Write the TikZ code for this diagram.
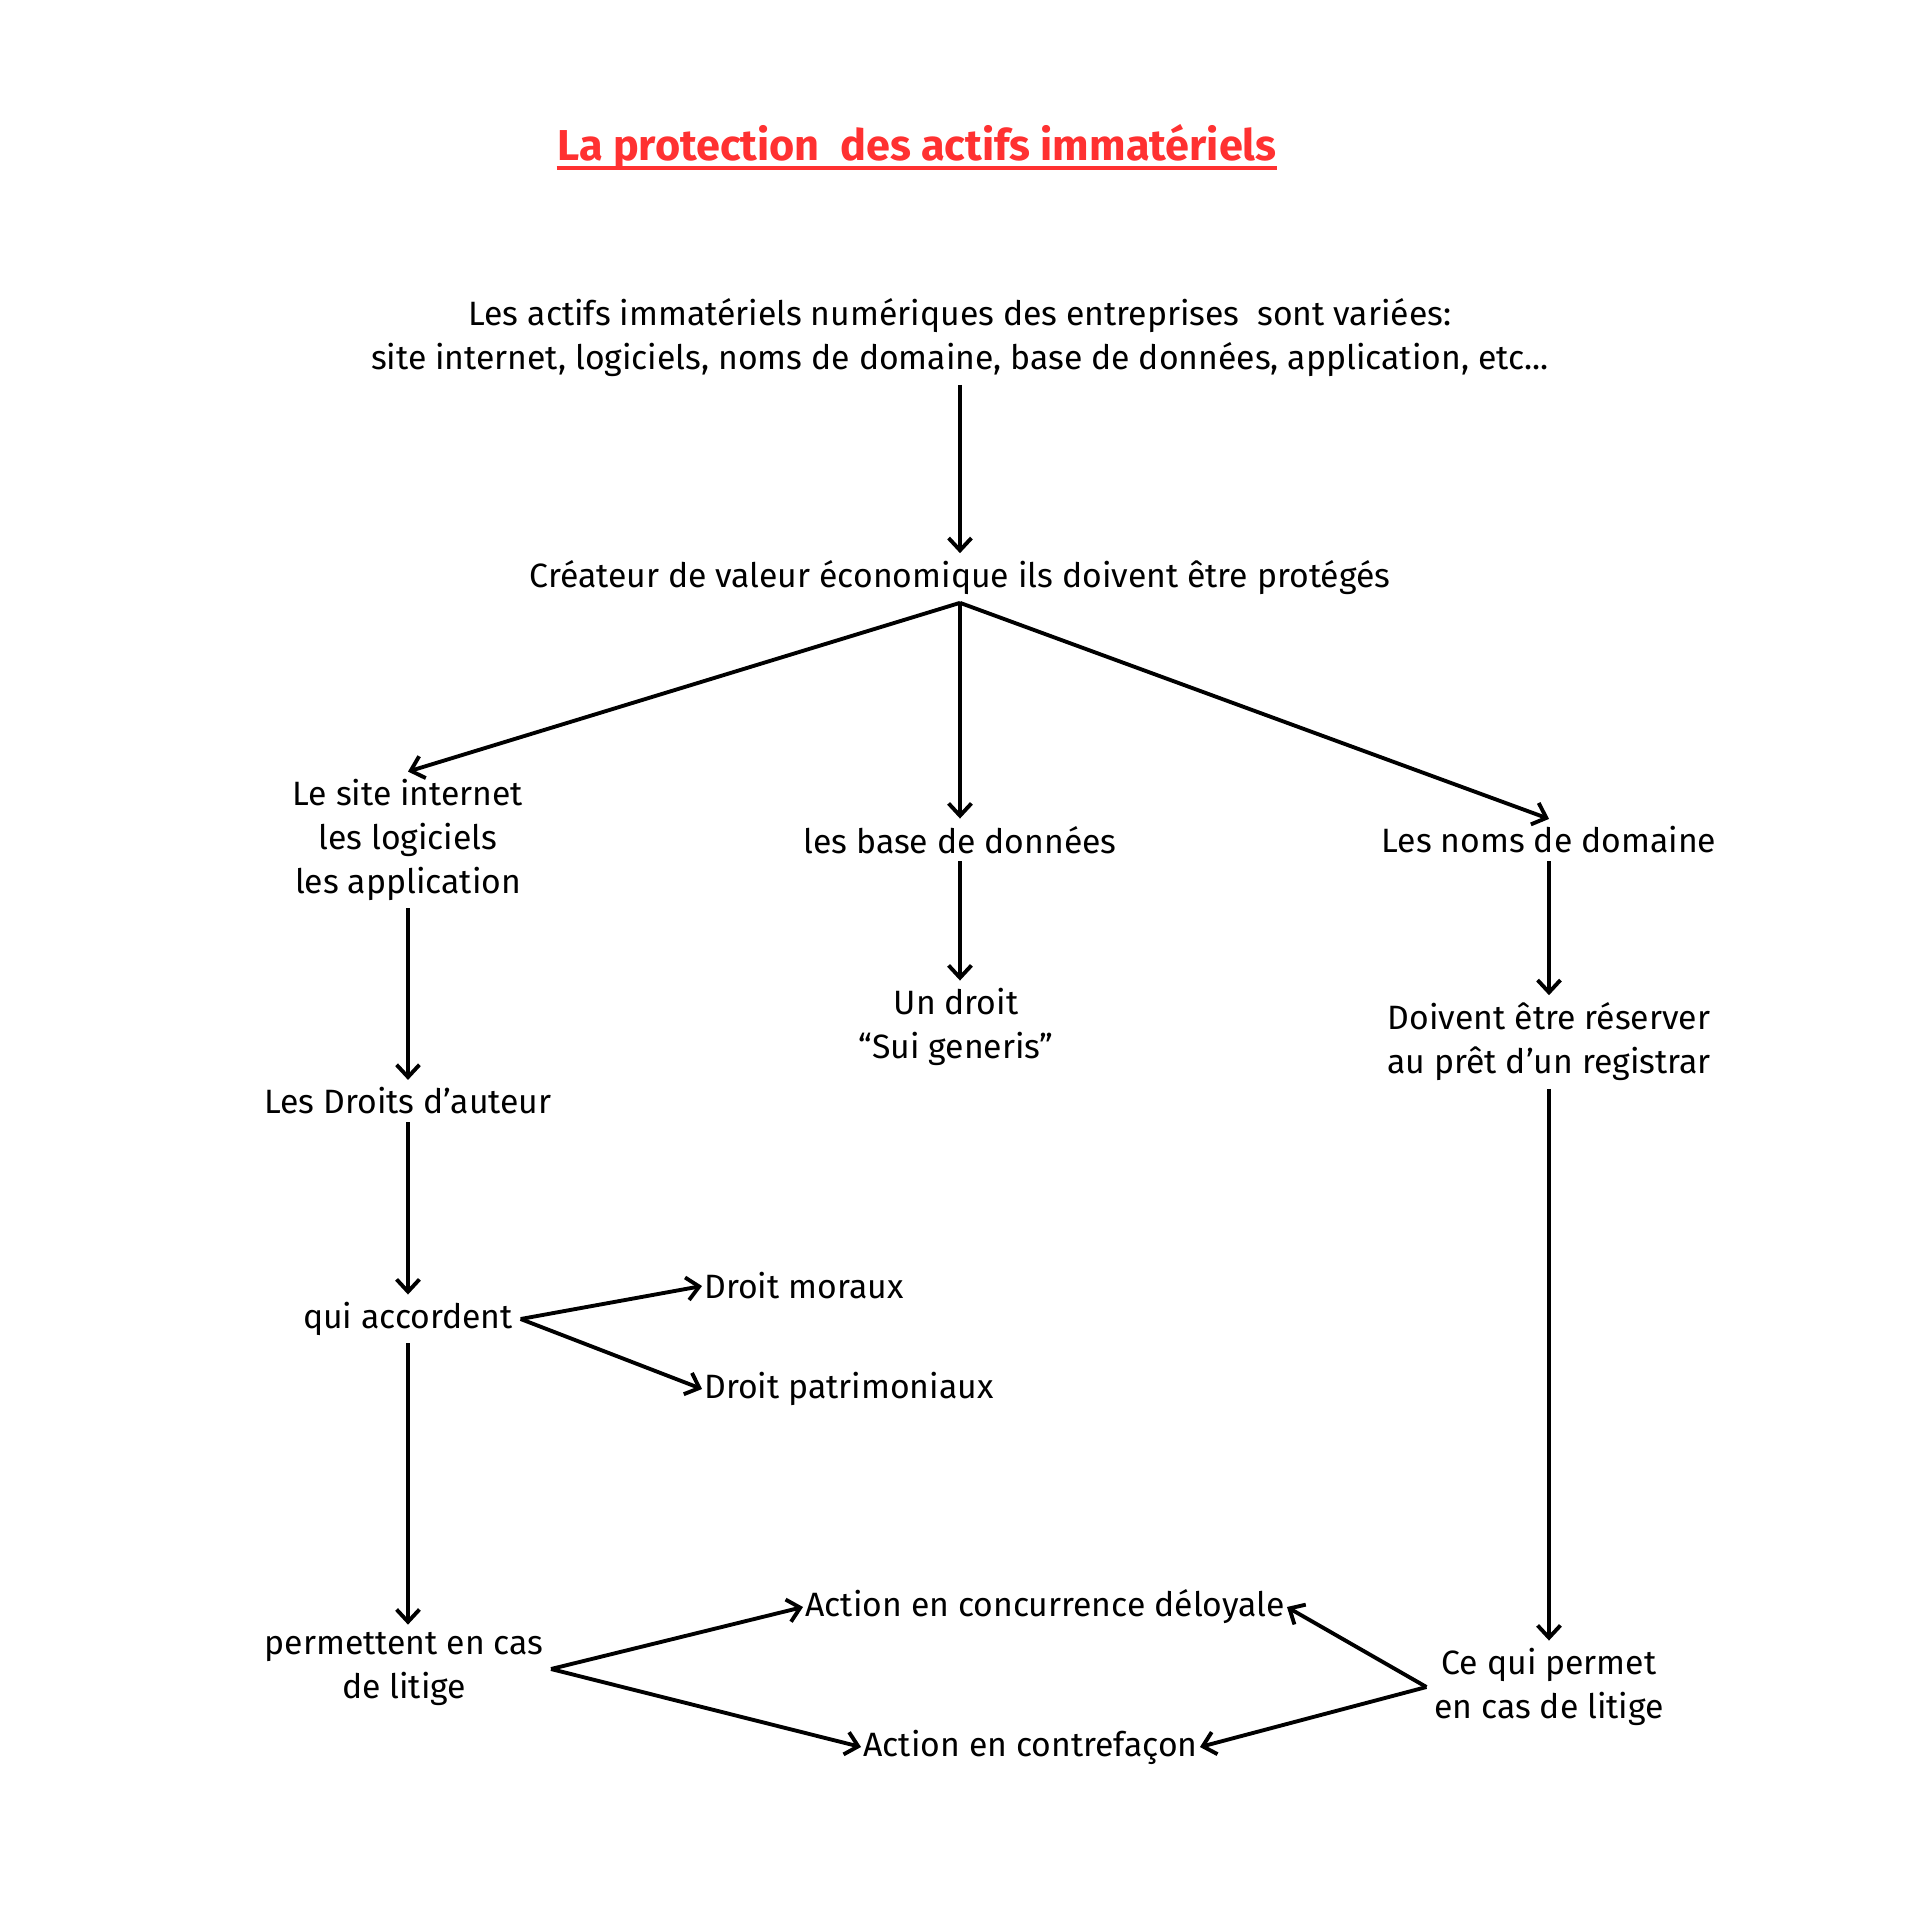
\documentclass[tikz,border=0pt]{standalone}
\usepackage{fontspec}
\setmainfont{Fira Sans}
\definecolor{titlered}{HTML}{FF3131}
\usetikzlibrary{arrows.meta, positioning}

\begin{document}
\begin{tikzpicture}[
    txt/.style={font=\fontsize{9.6}{12.5}\selectfont, align=center, inner sep=2pt},
    sidetxt/.style={txt, anchor=west, inner xsep=0.5pt},
    arrow/.style={-{Straight Barb[length=3.5pt,width=6.5pt]}, line width=1.1pt}
]
\useasboundingbox (0,0) rectangle (19.2,-19.2);

% Title
\node[font=\fontsize{12.3}{15}\selectfont\bfseries, text=titlered, inner sep=0pt] (title) at (9.17,-1.47) {La protection\ \ des actifs immatériels};
\draw[titlered, line width=1.1pt] ([yshift=-2.3pt]title.base west) -- ([yshift=-2.3pt]title.base east);

% Top of the tree
\node[txt] (actifs) at (9.60,-3.38) {Les actifs immatériels numériques des entreprises\ \ sont variées:\\site internet, logiciels, noms de domaine, base de données, application, etc...};
\node[txt] (createur) at (9.60,-5.78) {Créateur de valeur économique ils doivent être protégés};

% Three branches
\node[txt] (site) at (4.08,-8.40) {Le site internet\\les logiciels\\les application};
\node[txt] (base) at (9.60,-8.40) {les base de données};
\node[txt] (noms) at (15.49,-8.40) {Les noms de domaine};

% Left column
\node[txt] (droits) at (4.08,-11.01) {Les Droits d’auteur};
\node[txt] (accordent) at (4.08,-13.19) {qui accordent};
\node[sidetxt] (moraux) at (7.02,-12.86) {Droit moraux};
\node[sidetxt] (patri) at (7.02,-13.89) {Droit patrimoniaux};
\node[txt] (permettent) at (4.04,-16.69) {permettent en cas\\de litige};

% Middle column
\node[txt] (sui) at (9.56,-10.27) {Un droit\\“Sui generis”};

% Right column
\node[txt] (reserver) at (15.49,-10.42) {Doivent être réserver\\au prêt d’un registrar};
\node[txt] (cequi) at (15.49,-16.87) {Ce qui permet\\en cas de litige};

% Actions
\node[sidetxt] (concurrence) at (8.03,-16.07) {Action en concurrence déloyale};
\node[sidetxt] (contrefacon) at (8.61,-17.47) {Action en contrefaçon};

% Arrows
\draw[arrow] (actifs.south) -- (createur.north);
\draw[arrow] (createur.south) -- (site.north);
\draw[arrow] (createur.south) -- (base.north);
\draw[arrow] (createur.south) -- (noms.north);
\draw[arrow] (site.south) -- (droits.north);
\draw[arrow] (droits.south) -- (accordent.north);
\draw[arrow] (accordent.east) -- (moraux.west);
\draw[arrow] (accordent.east) -- (patri.west);
\draw[arrow] (accordent.south) -- (accordent.south |- permettent.north);
\draw[arrow] (base.south) -- (base.south |- sui.north);
\draw[arrow] (noms.south) -- (reserver.north);
\draw[arrow] (reserver.south) -- (cequi.north);
\draw[arrow] (permettent.east) -- (concurrence.west);
\draw[arrow] (permettent.east) -- (contrefacon.west);
\draw[arrow] (cequi.west) -- (concurrence.east);
\draw[arrow] (cequi.west) -- (contrefacon.east);

\end{tikzpicture}
\end{document}
